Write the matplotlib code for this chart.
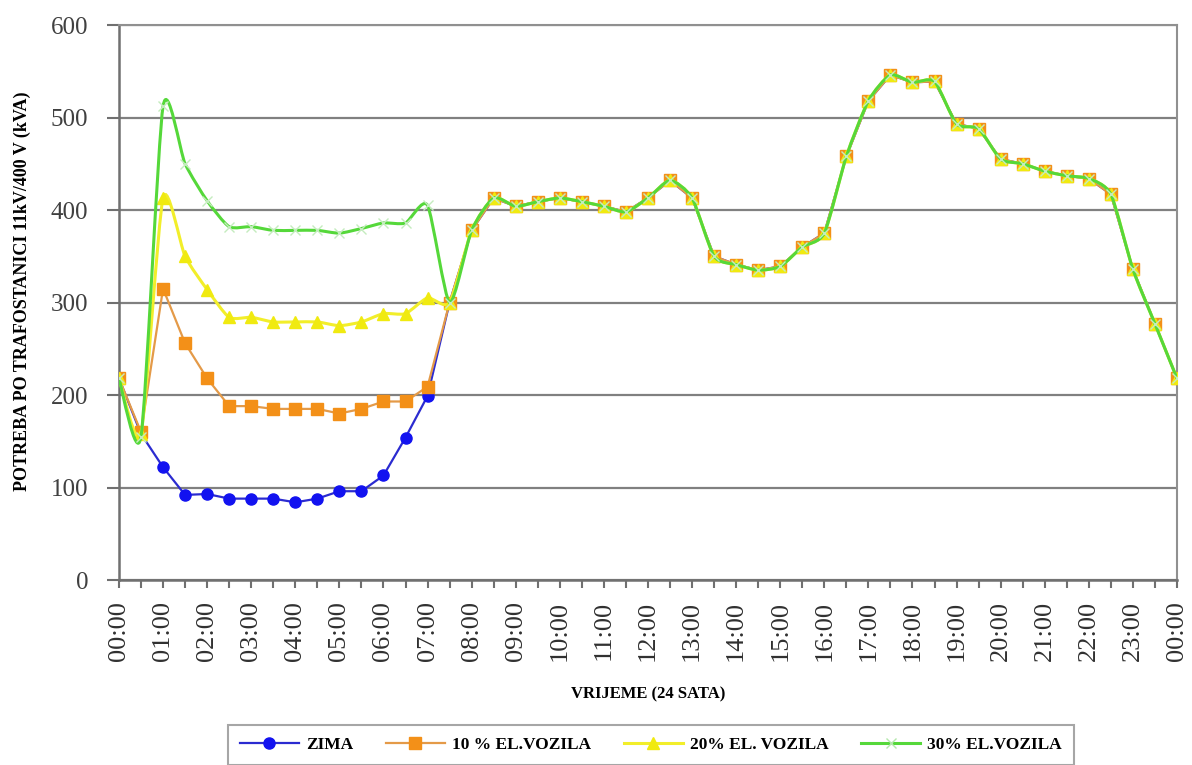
import matplotlib
matplotlib.use("Agg")
import matplotlib.pyplot as plt
from matplotlib.path import Path
from matplotlib.patches import PathPatch
from matplotlib.lines import Line2D

plt.rcParams['font.family'] = ['Liberation Serif', 'DejaVu Serif']

# vremena (svakih pola sata)
vrijeme = [f"{(i // 2) % 24:02d}:{(i % 2) * 30:02d}" for i in range(49)]

# nocni dio (00:00 - 07:00) za svaku krivulju
zima_noc = [218, 158, 122, 92, 93, 88, 88, 88, 84, 88, 96, 96, 113, 154, 199]
ev10_noc = [218, 160, 315, 256, 218, 188, 188, 185, 185, 185, 180, 185, 193, 193, 209]
ev20_noc = [218, 158, 413, 350, 314, 284, 284, 279, 279, 279, 275, 279, 288, 288, 305]
ev30_noc = [218, 155, 512, 450, 410, 382, 382, 378, 378, 378, 375, 380, 386, 386, 405]

# zajednicki dnevni dio (07:30 - 00:00)
dan = [300, 378, 413, 404, 409, 413, 409, 404, 398, 413, 432, 413, 350, 341, 335,
       339, 360, 375, 458, 518, 546, 538, 539, 493, 488, 455, 450, 442, 437, 434,
       417, 336, 277, 218]

zima = zima_noc + dan
ev10 = ev10_noc + dan
ev20 = ev20_noc + dan
ev30 = ev30_noc + dan

nazivi = ['ZIMA', '10 % EL.VOZILA', '20% EL. VOZILA', '30% EL.VOZILA']


def smooth_path(x, y, t=0.11):
    """Bezier put kroz tocke (glatka linija kao u Excelu)."""
    verts = [(x[0], y[0])]
    codes = [Path.MOVETO]
    n = len(x)
    for i in range(n - 1):
        x0, y0 = (x[i - 1], y[i - 1]) if i > 0 else (x[i], y[i])
        x3, y3 = (x[i + 2], y[i + 2]) if i + 2 < n else (x[i + 1], y[i + 1])
        c1 = (x[i] + (x[i + 1] - x0) * t, y[i] + (y[i + 1] - y0) * t)
        c2 = (x[i + 1] - (x3 - x[i]) * t, y[i + 1] - (y3 - y[i]) * t)
        verts += [c1, c2, (x[i + 1], y[i + 1])]
        codes += [Path.CURVE4] * 3
    return Path(verts, codes)


fig = plt.figure(figsize=(11.92, 7.65), dpi=100)
ax = fig.add_axes([0.0998, 0.2418, 0.8876, 0.7255])

x = list(range(len(vrijeme)))

ax.plot(x, zima, color='#2b2bd0', lw=1.6, marker='o', ms=8,
        mfc='#1212f0', mec='#1212f0', zorder=3)
ax.plot(x, ev10, color='#e49a48', lw=1.6, marker='s', ms=8,
        mfc='#f39018', mec='#f39018', zorder=4)

ax.add_patch(PathPatch(smooth_path(x, ev20), fc='none', ec='#f2ee2a', lw=2.2, zorder=5))
ax.plot(x, ev20, ls='none', marker='^', ms=8, mfc='#f0ea10', mec='#f0ea10', zorder=5)

ax.add_patch(PathPatch(smooth_path(x, ev30), fc='none', ec='#55d83a', lw=2.2, zorder=6))
ax.plot(x, ev30, ls='none', marker='x', ms=7, mew=1.0, color='#c4ecbe', zorder=6)

ax.set_xlim(0, 48)
ax.set_ylim(0, 600)
ax.set_yticks(range(0, 601, 100))
ax.set_xticks(x)
ax.set_xticklabels([v if i % 2 == 0 else '' for i, v in enumerate(vrijeme)],
                   rotation=90, fontsize=19, color='#303030')
ax.tick_params(axis='y', labelsize=18, labelcolor='#404040', length=9,
               width=1.5, color='#707070', pad=13)
ax.tick_params(axis='x', length=6, width=1.5, color='#707070', pad=9)

ax.grid(axis='y', color='#808080', lw=1.6)
ax.set_axisbelow(True)
for s in ['left', 'bottom']:
    ax.spines[s].set_color('#707070')
    ax.spines[s].set_linewidth(1.8)
for s in ['top', 'right']:
    ax.spines[s].set_color('#909090')
    ax.spines[s].set_linewidth(1.5)

ax.set_xlabel('VRIJEME (24 SATA)', fontsize=12, fontweight='bold', labelpad=18)
ax.set_ylabel('POTREBA PO TRAFOSTANICI 11kV/400 V (kVA)', fontsize=13,
              fontweight='bold')
ax.yaxis.set_label_coords(-0.083, 0.52)

handles = [
    Line2D([], [], color='#2b2bd0', lw=1.6, marker='o', ms=8, mfc='#1212f0', mec='#1212f0'),
    Line2D([], [], color='#e49a48', lw=1.6, marker='s', ms=8, mfc='#f39018', mec='#f39018'),
    Line2D([], [], color='#f2ee2a', lw=2.2, marker='^', ms=8, mfc='#f0ea10', mec='#f0ea10'),
    Line2D([], [], color='#55d83a', lw=2.2, marker='x', ms=7, mew=1.0, mec='#b5e8ad'),
]
leg = fig.legend(handles, nazivi, loc='upper center', bbox_to_anchor=(0.546, 0.064),
                 ncol=4, frameon=True, fancybox=False, handlelength=3.4,
                 handletextpad=0.4, columnspacing=1.9,
                 prop={'weight': 'bold', 'size': 12.5}, borderpad=0.7)
leg.get_frame().set_edgecolor('#909090')
leg.get_frame().set_linewidth(1.5)

fig.savefig('out.png', dpi=100)
